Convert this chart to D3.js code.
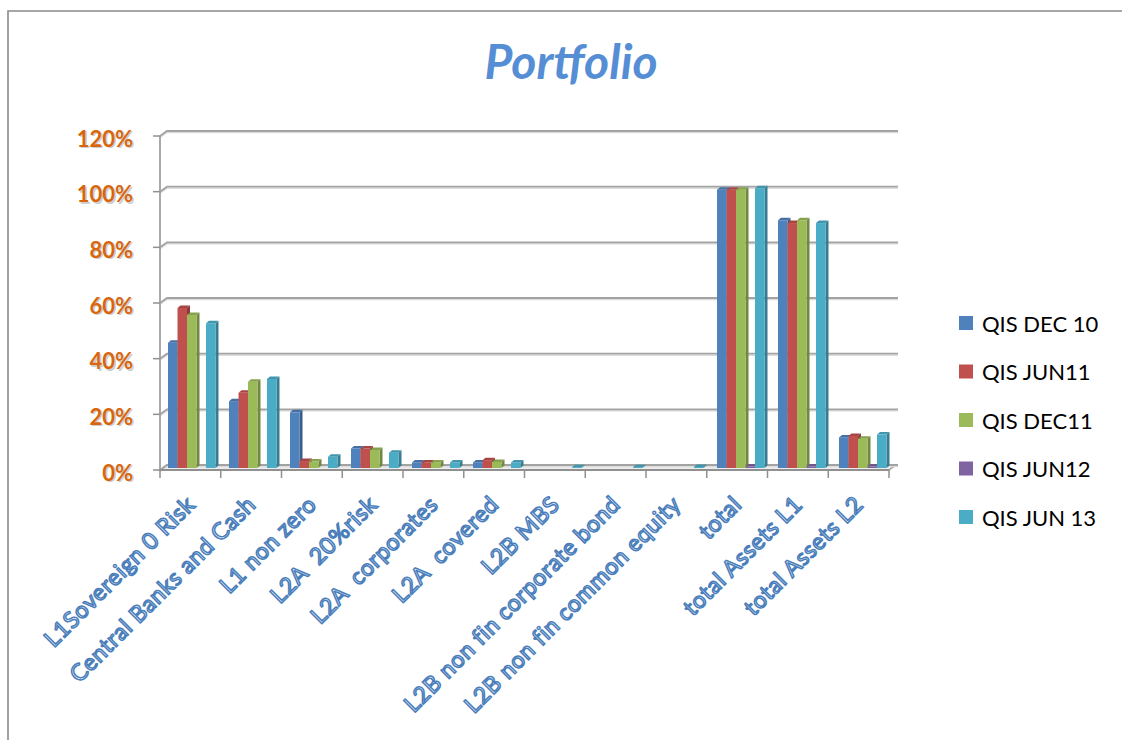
<!DOCTYPE html>
<html><head><meta charset="utf-8">
<script src="https://cdn.jsdelivr.net/npm/d3@7"></script>
<style>body{margin:0;background:#fff} svg{display:block} text{white-space:pre}</style>
</head><body><svg id="c" width="1122" height="740"></svg>
<script>
const categories = ["L1Sovereign 0 Risk","Central Banks and Cash","L1 non zero","L2A  20%risk","L2A  corporates","L2A  covered","L2B MBS","L2B non fin corporate bond","L2B non fin common equity","total","total Assets L1","total Assets L2"];
const seriesNames = ["QIS DEC 10","QIS JUN11","QIS DEC11","QIS JUN12","QIS JUN 13"];
const qisDec10 = [0.45,0.24,0.20,0.07,0.02,0.02,0,0,0,1.00,0.89,0.11];
const qisJun11 = [0.575,0.27,0.025,0.07,0.02,0.028,0,0,0,1.00,0.88,0.115];
const qisDec11 = [0.55,0.31,0.023,0.065,0.02,0.022,0,0,0,1.00,0.89,0.105];
const qisJun12 = [0,0,0,0,0,0,0,0,0,0.005,0.005,0.005];
const qisJun13 = [0.52,0.32,0.04,0.055,0.02,0.02,0.003,0.003,0.004,1.005,0.88,0.12];
const yTicks = [0,0.2,0.4,0.6,0.8,1.0,1.2];
const colors = ["#4F81BD","#C0504D","#9BBB59","#8064A2","#4BACC6"];

const seriesValues = [qisDec10,qisJun11,qisDec11,qisJun12,qisJun13];
const svg = d3.select("#c");

// chart border
svg.append("path").attr("d","M8,740 V11 H1122").attr("fill","none").attr("stroke","#8a8a8a").attr("stroke-width",1.6);

// title
svg.append("text").attr("x",571).attr("y",79).attr("text-anchor","middle")
  .attr("font-family","Lato").attr("font-weight","bold").attr("font-style","italic")
  .attr("font-size",48).attr("fill","#558ED5").text("Portfolio");

// scales
const yFront = d3.scaleLinear().domain([0,1.2]).range([470,136]);
const yBack = d3.scaleLinear().domain([0,1.2]).range([465,131]);
const yBar = d3.scaleLinear().domain([0,1.2]).range([468,134]);
const xAxis = d3.scaleBand().domain(categories).range([160,889]);
const xBar = d3.scaleBand().domain(categories).range([165,897]);
const xSer = d3.scaleBand().domain(seriesNames).range([3,50.5]);
const DX = 7, DY = -5;

// floor
svg.append("polygon")
  .attr("points",[[160,470],[889,470],[889+DX,470+DY],[160+DX,470+DY]].map(p=>p.join(",")).join(" "))
  .attr("fill","#ececec").attr("stroke","#a0a0a0").attr("stroke-width",1.5);

// gridlines on back wall
const grid = svg.append("g");
yTicks.forEach(t=>{
  grid.append("path").attr("d",`M160,${yFront(t)+1.5} L${160+DX},${yBack(t)+1.5} H898`)
    .attr("fill","none").attr("stroke","#dcdcdc").attr("stroke-width",1.5);
  grid.append("path").attr("d",`M160,${yFront(t)} L${160+DX},${yBack(t)} H898`)
    .attr("fill","none").attr("stroke","#a3a3a3").attr("stroke-width",1.8);
});

// front y axis
svg.append("line").attr("x1",160).attr("x2",160).attr("y1",yFront(1.2)).attr("y2",yFront(0))
  .attr("stroke","#a0a0a0").attr("stroke-width",1.8);
yTicks.forEach(t=>{
  svg.append("line").attr("x1",153).attr("x2",160).attr("y1",yFront(t)).attr("y2",yFront(t))
    .attr("stroke","#909090").attr("stroke-width",1.5);
});
// y labels
const yl = svg.append("g").attr("font-family","Lato").attr("font-weight","bold").attr("font-size",22).attr("text-anchor","end");
yTicks.forEach(t=>{
  const lbl = d3.format(".0%")(t);
  yl.append("text").attr("x",134.5).attr("y",yFront(t)+3.5).attr("dominant-baseline","central").attr("fill","#cfcfcf").text(lbl);
  yl.append("text").attr("x",133).attr("y",yFront(t)+2).attr("dominant-baseline","central").attr("fill","#D9660C").text(lbl);
});

// front x axis
svg.append("line").attr("x1",160).attr("x2",889).attr("y1",470).attr("y2",470).attr("stroke","#909090").attr("stroke-width",1.8);
d3.range(categories.length+1).forEach(i=>{
  const x = 160 + i*xAxis.step();
  svg.append("line").attr("x1",x).attr("x2",x).attr("y1",470).attr("y2",478).attr("stroke","#909090").attr("stroke-width",1.5);
});

// bars
const bars = svg.append("g");
const bdx = 3, bdy = -2.5;
categories.forEach((c,ci)=>{
  seriesNames.forEach((s,si)=>{
    const v = seriesValues[si][ci];
    if(!v) return;
    const col = d3.color(colors[si]);
    const x = xBar(c)+xSer(s), w = xSer.bandwidth();
    const y = yBar(v), y0 = yBar(0);
    const g = bars.append("g");
    g.append("polygon").attr("points",[[x+w,y],[x+w+bdx,y+bdy],[x+w+bdx,y0+bdy],[x+w,y0]].map(p=>p.join(",")).join(" "))
      .attr("fill",col.darker(0.9));
    g.append("rect").attr("x",x).attr("y",y).attr("width",w).attr("height",Math.max(0,y0-y)).attr("fill",colors[si]);
    g.append("polygon").attr("points",[[x,y],[x+bdx,y+bdy],[x+w+bdx,y+bdy],[x+w,y]].map(p=>p.join(",")).join(" "))
      .attr("fill",col.darker(0.4));
  });
});

// x labels
const xl = svg.append("g").attr("font-family","Lato").attr("font-size",23).attr("letter-spacing",0.6).attr("text-anchor","end")
  .attr("fill","#ffffff").attr("stroke","#4A7EBB").attr("stroke-width",1.5);
categories.forEach(c=>{
  const cx = xAxis(c)+xAxis.bandwidth()/2+6, cy = 506;
  xl.append("text").attr("transform",`translate(${cx},${cy}) rotate(-45)`).text(c);
});

// legend
const lg = svg.append("g").attr("font-family","Lato").attr("font-size",22);
seriesNames.forEach((s,i)=>{
  const cy = 323 + i*48.5;
  lg.append("rect").attr("x",959).attr("y",cy-7).attr("width",14).attr("height",14).attr("fill",colors[i]);
  lg.append("text").attr("x",982).attr("y",cy).attr("dominant-baseline","central").attr("fill","#000").text(s);
});
</script></body></html>
